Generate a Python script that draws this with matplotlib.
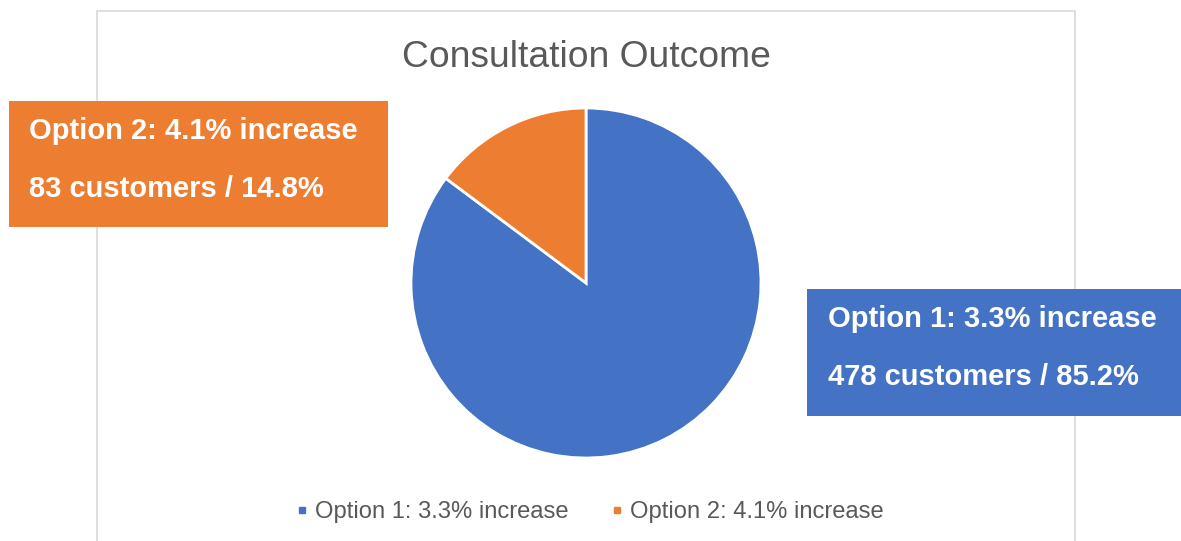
import matplotlib.pyplot as plt
from matplotlib.patches import Rectangle
from matplotlib.lines import Line2D

# data
labels = ["Option 1: 3.3% increase", "Option 2: 4.1% increase"]
customers = [478, 83]
shares = [85.2, 14.8]
colors = ["#4472C4", "#ED7D31"]

plt.rcParams['font.family'] = ['Liberation Sans', 'DejaVu Sans']

W, H = 1181, 541
fig = plt.figure(figsize=(W / 100, H / 100), dpi=100)
ax = fig.add_axes([0, 0, 1, 1])

# pie (pixel-like coords, y up)
ax.pie(customers, colors=colors, startangle=90, counterclock=False,
       center=(586, H - 283), radius=175,
       wedgeprops=dict(edgecolor='white', linewidth=2))
ax.set_xlim(0, W)
ax.set_ylim(0, H)
ax.set_aspect('equal')
ax.axis('off')

# chart frame
ax.add_patch(Rectangle((97, -5), 978, H - 11 + 5, fill=False,
                       edgecolor='#D9D9D9', linewidth=1.2, zorder=0))

ax.text(586, H - 67, "Consultation Outcome", fontsize=26.8, color='#595959',
        ha='center', va='baseline')

# data label boxes: (left, top, width, height, text x)
boxes = [(807, 289, 380, 127, 828), (9, 101, 379, 126, 29)]
for i, (x, y, w, h, tx) in enumerate(boxes):
    ax.add_patch(Rectangle((x, H - y - h), w, h, facecolor=colors[i],
                           edgecolor='none', zorder=3, clip_on=False))
    ax.text(tx, H - y - 38, labels[i], fontsize=21, fontweight='bold',
            color='white', ha='left', va='baseline', zorder=4)
    ax.text(tx, H - y - 96, f"{customers[i]} customers / {shares[i]}%",
            fontsize=21, fontweight='bold', color='white',
            ha='left', va='baseline', zorder=4)

handles = [Line2D([], [], marker='s', linestyle='none', markersize=4.5,
                  markerfacecolor=c, markeredgecolor=c) for c in colors]
leg = ax.legend(handles, labels, loc='center left',
                bbox_to_anchor=(283 / W, 1 - 512 / H), borderpad=0,
                ncol=2, frameon=False, fontsize=17.1, handlelength=0.6,
                handletextpad=0.25, columnspacing=1.72, labelcolor='#595959')

fig.savefig("out.png", dpi=100, facecolor='white')
